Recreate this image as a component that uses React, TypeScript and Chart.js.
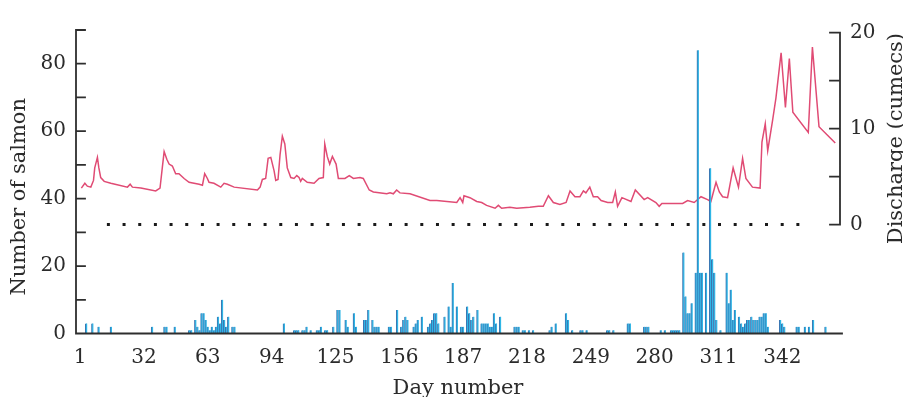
import React, { useEffect, useRef } from 'react';
import { Chart, registerables } from 'chart.js';

Chart.register(...registerables);

// ---------- data ----------
const xTickDays = [1, 32, 63, 94, 125, 156, 187, 218, 249, 280, 311, 342];
const leftTickValues = [0, 10, 20, 30, 40, 50, 60, 70, 80, 90];
const leftLabelValues = [0, 20, 40, 60, 80];
const rightTickValues = [0, 5, 10, 15, 20];
const rightLabelValues = [0, 10, 20];

const salmonDays = [
  4, 7, 10, 16, 36, 42, 43, 47,
  54, 55, 57, 58, 59, 60, 61, 62, 63, 64, 65, 66, 67, 68, 69, 70, 71, 72, 73, 75, 76,
  100, 105, 106, 107, 109, 110, 111, 113, 116, 117, 118, 120, 121, 124, 126, 127, 130, 131, 134, 135, 139, 140, 141, 143, 144, 145, 146,
  151, 152, 155, 157, 158, 159, 160, 163, 164, 165, 167, 170, 171, 172, 173, 174, 175, 178, 180, 181, 182, 184, 186, 187, 189, 190, 191, 192, 194, 196, 197, 198, 199, 200, 201, 202, 203, 205,
  212, 213, 214, 216, 217, 219, 221,
  229, 230, 232, 237, 238, 240, 244, 245, 247, 257, 258, 260, 267, 268, 275, 276, 277, 283, 285, 288, 289, 290, 291, 292,
  294, 295, 296, 297, 298, 300, 301, 302, 303, 305, 307, 308, 309, 310, 312,
  315, 316, 317, 318, 319, 321, 322, 323, 324,
  325, 326, 327, 328, 329, 330, 331, 332, 333, 334, 335,
  341, 342, 343, 349, 350, 353, 355, 357, 363,
];
const salmonCounts = [
  3, 3, 2, 2, 2, 2, 2, 2,
  1, 1, 4, 2, 1, 6, 6, 4, 2, 1, 2, 1, 2, 5, 3, 10, 4, 2, 5, 2, 2,
  3, 1, 1, 1, 1, 1, 2, 1, 1, 1, 2, 1, 1, 2, 7, 7, 4, 2, 6, 2, 4, 4, 7, 4, 2, 2, 2,
  2, 2, 7, 2, 4, 5, 4, 2, 3, 4, 5, 2, 3, 4, 6, 6, 3, 5, 8, 2, 15, 8, 2, 2, 8, 6, 4, 5, 7, 3, 3, 3, 3, 2, 2, 6, 3, 5,
  2, 2, 2, 1, 1, 1, 1,
  1, 2, 3, 6, 4, 1, 1, 1, 1, 1, 1, 1, 3, 3, 2, 2, 2, 1, 1, 1, 1, 1, 1, 1,
  24, 11, 6, 6, 9, 18, 84, 18, 18, 18, 49, 22, 18, 4, 1,
  18, 9, 13, 4, 7, 5, 3, 2, 3,
  4, 4, 5, 4, 4, 4, 5, 5, 6, 6, 2,
  4, 3, 2, 2, 2, 2, 2, 4, 2,
];

const dischargeDays = [
  1.6, 3.3, 4.5, 6.2, 7.5, 8.1, 9.4, 10.1, 11, 12.7, 15.9, 24, 25.3, 26.4, 30.5, 37.7, 39.8, 40.9, 41.8, 43.1,
  44.2, 45.8, 47.4, 49, 51.5, 53.9, 58.8, 60.4, 61.5, 62.8, 63.6, 66, 69.3, 70.9, 72.5, 75.8, 87.1, 88.4, 89.5, 91.1,
  92.3, 93.6, 95.2, 96, 97.1, 98.1, 99.2, 100.4, 101.6, 103.3, 104.9, 106.2, 107.3, 108.1, 108.9, 111.3, 114.6, 117, 119.1, 119.8,
  121, 122.2, 123.5, 125.3, 126.4, 129.6, 131.7, 133.7, 136.9, 138.5, 141.4, 143.4, 149.9, 151.5, 153.1, 154.7, 156.3, 161.2, 170.9, 174.2,
  183.9, 185.5, 186.8, 187.4, 190.3, 193.6, 196, 198.4, 202.5, 204.1, 205.7, 209.7, 213, 219.4, 223.5, 225.9, 228.4, 230.8, 234, 237,
  238.9, 241.3, 243.7, 245.4, 246.6, 248.5, 250.2, 252.3, 254, 257.2, 259.6, 260.9, 262, 264.1, 268.5, 270.6, 274.9, 276.6, 280.6, 282.2,
  283.5, 293.6, 296, 299.2, 302.5, 305.7, 307.3, 309.8, 311.4, 313, 315.4, 318.1, 320.7, 322.7, 324.3, 327.5, 331.2, 332.1, 333.7, 334.9,
  337.3, 338.9, 341.4, 343.5, 345.4, 347.1, 354.6, 356.6, 359.8, 367.7,
];
const dischargeValues = [
  3.8, 4.3, 4.0, 3.9, 4.6, 5.9, 7.0, 5.9, 4.9, 4.5, 4.3, 3.9, 4.2, 3.9, 3.8, 3.5, 3.8, 5.9, 7.6, 6.8,
  6.3, 6.1, 5.3, 5.3, 4.8, 4.4, 4.2, 4.1, 5.3, 4.8, 4.4, 4.3, 3.9, 4.3, 4.2, 3.9, 3.6, 3.9, 4.7, 4.8,
  6.9, 7.0, 5.6, 4.6, 4.7, 7.3, 9.2, 8.4, 5.9, 4.9, 4.8, 5.1, 4.9, 4.5, 4.8, 4.4, 4.3, 4.8, 4.9, 8.4,
  7.1, 6.3, 7.1, 6.3, 4.8, 4.8, 5.1, 4.8, 4.9, 4.8, 3.6, 3.4, 3.2, 3.3, 3.2, 3.6, 3.3, 3.2, 2.5, 2.5,
  2.3, 2.8, 2.3, 3.0, 2.8, 2.4, 2.3, 2.0, 1.7, 2.0, 1.7, 1.8, 1.7, 1.8, 1.9, 1.9, 3.0, 2.3, 2.1, 2.3,
  3.5, 2.9, 2.9, 3.5, 3.3, 3.9, 2.9, 2.9, 2.5, 2.3, 2.3, 3.4, 1.9, 2.8, 2.4, 3.6, 2.6, 2.8, 2.3, 1.9,
  2.2, 2.2, 2.5, 2.3, 2.9, 2.6, 2.4, 4.4, 3.4, 2.9, 2.8, 5.9, 3.9, 6.9, 4.8, 3.9, 3.8, 8.6, 10.5, 7.7,
  10.9, 13.2, 17.9, 12.2, 17.3, 11.7, 9.6, 18.5, 10.2, 8.5,
];

const zeroLineDays = [14, 356];
const zeroLineValues = [0, 0];

// ---------- styling ----------
const FONT = "'DejaVu Serif', serif";
const TEXT = '#2b2b2b';
const AXIS = '#2e2e2e';
const LINE = '#e04b74';
const BAR_FILL = '#2fb6e6';
const BAR_EDGE = '#3b74b0';

const paperAxes = {
  id: 'paperAxes',
  afterDatasetsDraw(chart: any) {
    const { ctx, chartArea: a, scales } = chart;
    const ys = scales.y;
    const rs = scales.y2;
    ctx.save();
    ctx.strokeStyle = AXIS;
    ctx.lineWidth = 1.8;
    ctx.lineCap = 'square';
    const y0 = ys.getPixelForValue(0);
    ctx.beginPath();
    ctx.moveTo(a.left, ys.getPixelForValue(ys.max));
    ctx.lineTo(a.left, y0);
    ctx.lineTo(a.right + 2, y0);
    ys.ticks.forEach((t: any) => {
      const p = ys.getPixelForValue(t.value);
      ctx.moveTo(a.left, p);
      ctx.lineTo(a.left + 9, p);
    });
    const r0 = rs.getPixelForValue(rightTickValues[0]);
    const r1 = rs.getPixelForValue(rightTickValues[rightTickValues.length - 1]);
    ctx.moveTo(a.right, r1);
    ctx.lineTo(a.right, r0);
    rs.ticks.forEach((t: any) => {
      const p = rs.getPixelForValue(t.value);
      ctx.moveTo(a.right, p);
      ctx.lineTo(a.right - 10, p);
    });
    ctx.stroke();

    ctx.fillStyle = TEXT;
    ctx.font = `21px ${FONT}`;
    ctx.textAlign = 'center';
    ctx.textBaseline = 'middle';

    // right axis title, centred on the 0–20 part of the axis
    ctx.save();
    ctx.translate(a.right + 57, (r0 + r1) / 2 + 10);
    ctx.rotate(-Math.PI / 2);
    ctx.fillText('Discharge (cumecs)', 0, 0);
    ctx.restore();

    // left axis title
    ctx.save();
    ctx.translate(a.left - 56, (a.top + a.bottom) / 2 + 15);
    ctx.rotate(-Math.PI / 2);
    ctx.fillText('Number of salmon', 0, 0);
    ctx.restore();

    ctx.restore();
  },
};

export default function App() {
  const ref = useRef<HTMLCanvasElement | null>(null);

  useEffect(() => {
    if (!ref.current) return;
    const tickFont = { family: FONT, size: 20 };
    const titleFont = { family: FONT, size: 21 };
    const chart = new Chart(ref.current, {
      type: 'bar',
      data: {
        datasets: [
          {
            type: 'bar',
            label: 'Number of salmon',
            data: salmonDays.map((d, i) => ({ x: d, y: salmonCounts[i] })),
            xAxisID: 'x',
            yAxisID: 'y',
            backgroundColor: BAR_FILL,
            borderColor: BAR_EDGE,
            borderWidth: { left: 1, right: 0, top: 0, bottom: 0 },
            borderSkipped: false,
            barThickness: 2,
            order: 0,
          } as any,
          {
            type: 'line',
            label: 'Discharge',
            data: dischargeDays.map((d, i) => ({ x: d, y: dischargeValues[i] })),
            xAxisID: 'x',
            yAxisID: 'y2',
            borderColor: LINE,
            borderWidth: 1.5,
            pointRadius: 0,
            tension: 0,
            order: 1,
          } as any,
          {
            type: 'line',
            label: 'zero',
            data: zeroLineDays.map((d, i) => ({ x: d, y: zeroLineValues[i] })),
            xAxisID: 'x',
            yAxisID: 'y2',
            borderColor: '#1a1a1a',
            borderWidth: 3,
            borderDash: [3, 12.67],
            borderCapStyle: 'butt',
            pointRadius: 0,
            order: 2,
          } as any,
        ],
      },
      options: {
        animation: false,
        responsive: true,
        maintainAspectRatio: false,
        layout: { padding: { top: 8, left: 0, right: 0, bottom: 0 } },
        plugins: { legend: { display: false }, tooltip: { enabled: false } },
        scales: {
          x: {
            type: 'linear',
            position: 'bottom',
            min: -1,
            max: 370,
            offset: false,
            afterBuildTicks: (s: any) => {
              s.ticks = xTickDays.map((v) => ({ value: v }));
            },
            afterFit: (s: any) => {
              s.height = 71.5;
            },
            ticks: {
              font: tickFont,
              color: TEXT,
              padding: 12,
              autoSkip: false,
              maxRotation: 0,
              callback: (v: any) => String(v),
            },
            grid: { display: false, drawTicks: false, offset: false },
            border: { display: false },
            title: {
              display: true,
              text: 'Day number',
              font: titleFont,
              color: TEXT,
              padding: { top: 0, bottom: 4 },
            },
          },
          y: {
            type: 'linear',
            position: 'left',
            min: 0,
            max: 90,
            afterBuildTicks: (s: any) => {
              s.ticks = leftTickValues.map((v) => ({ value: v }));
            },
            afterFit: (s: any) => {
              s.width = 68;
            },
            ticks: {
              font: tickFont,
              color: TEXT,
              padding: 10,
              autoSkip: false,
              callback: (v: any) => (leftLabelValues.includes(v) ? String(v) : ''),
            },
            grid: { display: false, drawTicks: false },
            border: { display: false },
          },
          y2: {
            type: 'linear',
            position: 'right',
            min: -11.35,
            max: 20.27,
            afterBuildTicks: (s: any) => {
              s.ticks = rightTickValues.map((v) => ({ value: v }));
            },
            afterFit: (s: any) => {
              s.width = 63;
            },
            ticks: {
              font: tickFont,
              color: TEXT,
              padding: 10,
              autoSkip: false,
              callback: (v: any) => (rightLabelValues.includes(v) ? String(v) : ''),
            },
            grid: { display: false, drawTicks: false },
            border: { display: false },
          },
        },
      } as any,
      plugins: [paperAxes],
    });
    return () => chart.destroy();
  }, []);

  return (
    <div style={{ width: '895px', height: '397px', marginBottom: '-8px', position: 'relative' }}>
      <canvas ref={ref} />
    </div>
  );
}
